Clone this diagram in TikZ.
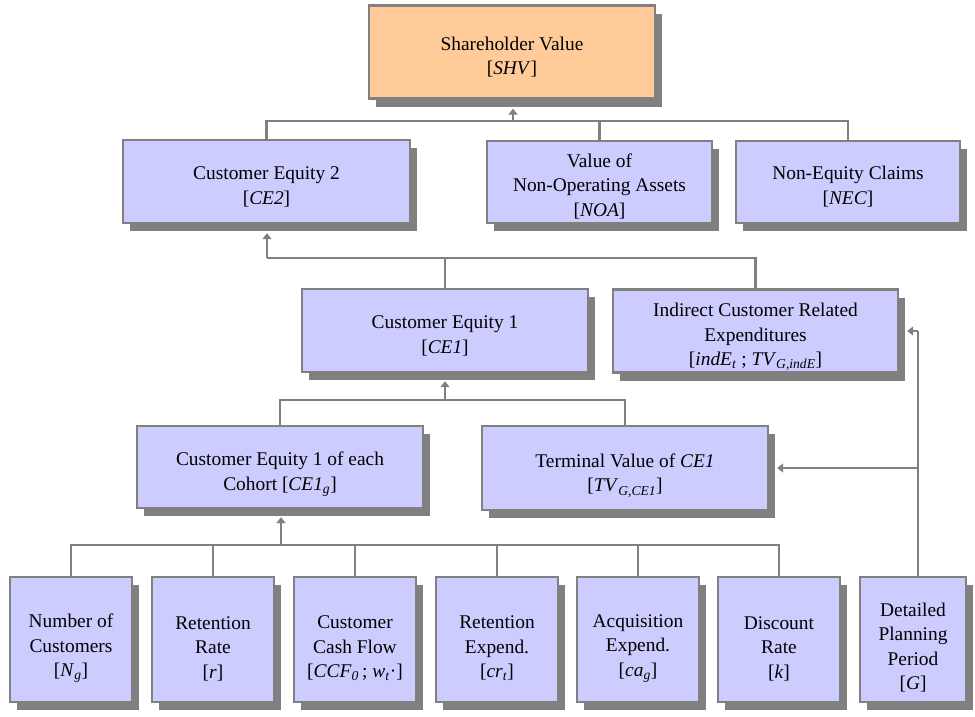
\documentclass[tikz,border=0pt]{standalone}
\usepackage{fontspec}
\setmainfont{Liberation Serif}
\usetikzlibrary{shadows,arrows.meta,calc}
\definecolor{boxblue}{HTML}{CCCCFF}
\definecolor{boxorange}{HTML}{FFCC99}
\definecolor{lgray}{HTML}{808080}
\newcommand{\mysub}[1]{\textsubscript{\textit{#1}}}
\tikzset{
  box/.style={draw=lgray, line width=2.4pt, fill=boxblue, inner sep=0pt,
    general shadow={fill=lgray, shadow xshift=7pt, shadow yshift=-8pt}},
  topbox/.style={box, fill=boxorange},
  lbl/.style={align=center, inner sep=0pt, font=\fontsize{19.4}{24.5}\selectfont},
  conn/.style={draw=lgray, line width=2.9pt},
  arr/.style={-{Triangle[width=9pt,length=6pt]}},
}
\begin{document}
\begin{tikzpicture}[x=1pt,y=-1pt]
\useasboundingbox (0,0) rectangle (975,716);
% level 0
\node[topbox, minimum width=286pt, minimum height=93pt] (shv) at (512,52) {};
\node[lbl] (shv-t) at ($(shv.center)+(0,5)$) {Shareholder Value\\{[}\textit{SHV}]};
% level 1
\node[box, minimum width=287pt, minimum height=83pt] (ce2) at (266.5,181.5) {};
\node[lbl] (ce2-t) at ($(ce2.center)+(0,5.5)$) {Customer Equity 2\\{[}\textit{CE2}]};
\node[box, minimum width=225pt, minimum height=82pt] (noa) at (599.5,182) {};
\node[lbl] (noa-t) at ($(noa.center)+(0,4)$) {Value of\\Non-Operating Assets\\{[}\textit{NOA}]};
\node[box, minimum width=224pt, minimum height=82pt] (nec) at (848,182) {};
\node[lbl] (nec-t) at ($(nec.center)+(0,4.5)$) {Non-Equity Claims\\{[}\textit{NEC}]};
% level 2
\node[box, minimum width=286pt, minimum height=83pt] (ce1) at (445,330.5) {};
\node[lbl] (ce1-t) at ($(ce1.center)+(0,5.5)$) {Customer Equity 1\\{[}\textit{CE1}]};
\node[box, minimum width=285pt, minimum height=83pt] (ind) at (755.5,331) {};
\node[lbl] (ind-t) at ($(ind.center)+(0,6)$) {Indirect Customer Related\\Expenditures\\{[}\textit{indE}\mysub{t} ; \textit{TV}\mysub{G,indE}]};
% level 3
\node[box, minimum width=286pt, minimum height=82pt] (ce1g) at (280,467) {};
\node[lbl] (ce1g-t) at ($(ce1g.center)+(0,7)$) {Customer Equity 1 of each\\Cohort [\textit{CE1}\mysub{g}]};
\node[box, minimum width=286pt, minimum height=84pt] (tv) at (625,468) {};
\node[lbl] (tv-t) at ($(tv.center)+(0,7.5)$) {Terminal Value of \textit{CE1}\\{[}\textit{TV}\mysub{G,CE1}]};
% level 4
\node[box, minimum width=122pt, minimum height=125pt] (n) at (71,639.5) {};
\node[lbl] (n-t) at ($(n.center)+(0,9)$) {Number of\\Customers\\{[}\textit{N}\mysub{g}]};
\node[box, minimum width=122pt, minimum height=125pt] (rr) at (213,639.5) {};
\node[lbl] (rr-t) at ($(rr.center)+(0,9)$) {Retention\\Rate\\{[}\textit{r}]};
\node[box, minimum width=122pt, minimum height=125pt] (ccf) at (355,639.5) {};
\node[lbl] (ccf-t) at ($(ccf.center)+(0,9)$) {Customer\\Cash Flow\\{[}\textit{CCF}\mysub{0}\,; \textit{w}\mysub{t}·]};
\node[box, minimum width=122pt, minimum height=125pt] (re) at (497,639.5) {};
\node[lbl] (re-t) at ($(re.center)+(0,9)$) {Retention\\Expend.\\{[}\textit{cr}\mysub{t}]};
\node[box, minimum width=122pt, minimum height=125pt] (acq) at (638,639.5) {};
\node[lbl] (acq-t) at ($(acq.center)+(0,9)$) {Acquisition\\Expend.\\{[}\textit{ca}\mysub{g}]};
\node[box, minimum width=122pt, minimum height=125pt] (disc) at (779,639.5) {};
\node[lbl] (disc-t) at ($(disc.center)+(0,9)$) {Discount\\Rate\\{[}\textit{k}]};
\node[box, minimum width=106pt, minimum height=125pt] (det) at (913,639.5) {};
\node[lbl] (det-t) at ($(det.center)+(0,8)$) {Detailed\\Planning\\Period\\{[}\textit{G}]};
% junctions
\coordinate (j1) at (513,121);
\coordinate (j2) at (267,258);
\coordinate (j3) at (445,400);
\coordinate (j4) at (281,545);
\coordinate (dt) at ($(det.north)+(5,0)$);
% connectors level 1 -> 0
\draw[conn] (ce2.north) -- (ce2.north |- j1) -| (nec.north);
\draw[conn] (noa.north) -- (noa.north |- j1);
\draw[conn,arr,shorten >=9pt] (j1) -- (shv.south -| j1);
% level 2 -> ce2
\draw[conn] (ce1.north) -- (ce1.north |- j2);
\draw[conn] (j2) -| (ind.north);
\draw[conn,arr,shorten >=9pt] (j2) -- (ce2.south -| j2);
% level 3 -> ce1
\draw[conn] (ce1g.north) -- (ce1g.north |- j3) -| (tv.north);
\draw[conn,arr,shorten >=8pt] (j3) -- (ce1.south -| j3);
% level 4 -> ce1g
\draw[conn] (n.north) -- (n.north |- j4) -| (disc.north);
\draw[conn] (rr.north) -- (rr.north |- j4);
\draw[conn] (ccf.north) -- (ccf.north |- j4);
\draw[conn] (re.north) -- (re.north |- j4);
\draw[conn] (acq.north) -- (acq.north |- j4);
\draw[conn,arr,shorten >=8pt] (j4) -- (ce1g.south -| j4);
% detailed planning period
\draw[conn] (dt) -- (ind.east -| dt);
\draw[conn,arr,shorten >=8pt] (ind.east -| dt) -- (ind.east);
\draw[conn,arr,shorten >=8pt] (tv.east -| dt) -- (tv.east);
\end{tikzpicture}
\end{document}
